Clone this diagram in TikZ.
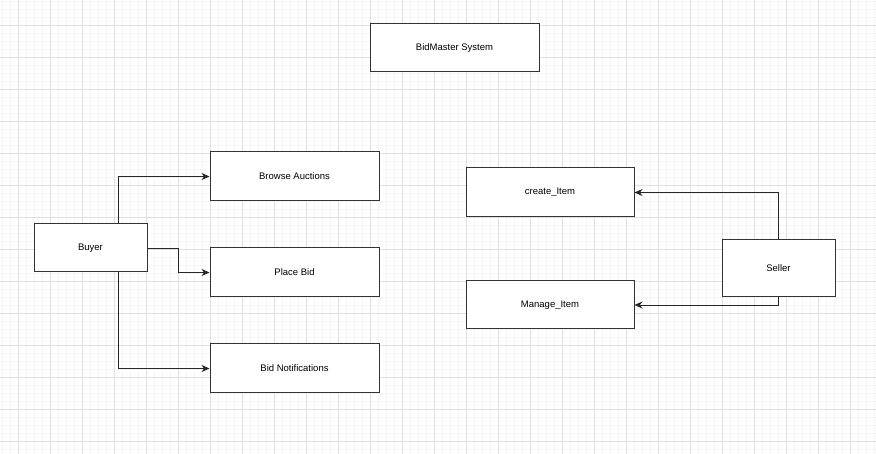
\documentclass[tikz,border=0pt]{standalone}
\usepackage{fontspec}
\setmainfont{Liberation Sans}
\usetikzlibrary{arrows.meta}
\definecolor{minorgrid}{HTML}{F5F5F5}
\definecolor{majorgrid}{HTML}{E0E0E0}
\definecolor{boxline}{HTML}{333333}
\tikzset{
  box/.style={draw=boxline, line width=1pt, fill=white, font=\fontsize{9.5}{11}\selectfont, text=black},
  conn/.style={draw=black!85, line width=0.9pt, -{Stealth[length=8pt,width=7pt]}},
}
\begin{document}
\begin{tikzpicture}[x=1pt,y=-1pt]
\useasboundingbox (0,0) rectangle (876,454);
\fill[white] (0,0) rectangle (876,454);
% minor grid
\foreach \x in {2,10,...,874} \draw[minorgrid, line width=0.6pt] (\x,0) -- (\x,454);
\foreach \y in {1,9,...,453} \draw[minorgrid, line width=0.6pt] (0,\y) -- (876,\y);
% major grid
\foreach \x in {18,50,...,874} \draw[majorgrid, line width=0.8pt] (\x,0) -- (\x,454);
\foreach \y in {25,57,...,453} \draw[majorgrid, line width=0.8pt] (0,\y) -- (876,\y);

\node[box, minimum width=169pt, minimum height=48pt] (sys) at (454.5,48) {BidMaster System};
\node[box, minimum width=113pt, minimum height=48pt] (buyer) at (90.5,248) {Buyer};
\node[box, minimum width=169pt, minimum height=49pt] (browse) at (294.5,176.5) {Browse Auctions};
\node[box, minimum width=169pt, minimum height=49pt] (place) at (294.5,272.5) {Place Bid};
\node[box, minimum width=169pt, minimum height=49pt] (notif) at (294.5,368.5) {Bid Notifications};
\node[box, minimum width=168pt, minimum height=49pt] (create) at (550,192.5) {create\_Item};
\node[box, minimum width=168pt, minimum height=48pt] (manage) at (550,305) {Manage\_Item};
\node[box, minimum width=113pt, minimum height=57pt] (seller) at (778.5,268.5) {Seller};

\coordinate (b1) at (118,224);
\coordinate (b3) at (118,272);
\draw[conn] (b1) |- (browse.west);
\draw[conn] (buyer.east) -- (178,248) |- (place.west);
\draw[conn] (b3) |- (notif.west);
\draw[conn] (seller.north) |- (create.east);
\draw[conn] (seller.south) |- (manage.east);
\end{tikzpicture}
\end{document}
